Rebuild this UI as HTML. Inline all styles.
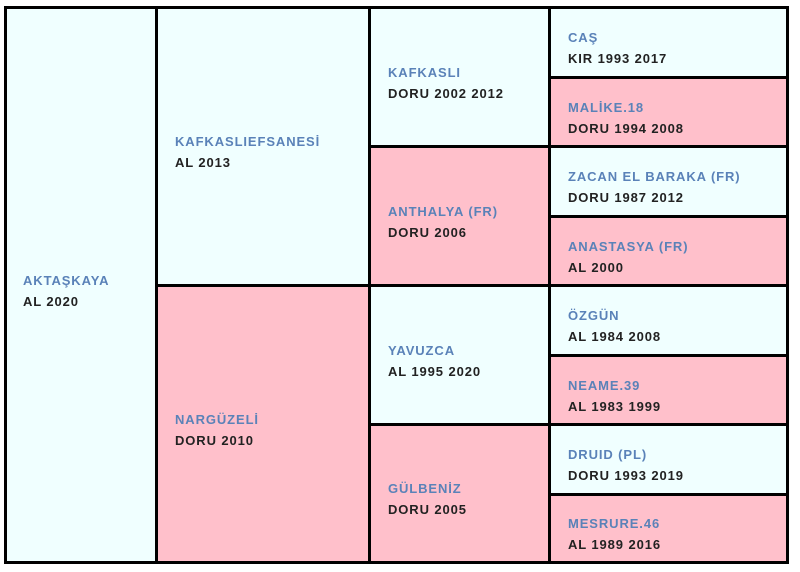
<!DOCTYPE html>
<html><head><meta charset="utf-8"><style>
html,body{margin:0;padding:0;width:800px;height:572px;background:#fff;overflow:hidden}
#tree{position:absolute;left:4px;top:6px;width:785px;height:558px;background:#000}
.c{position:absolute;box-sizing:border-box;display:flex;flex-direction:column;justify-content:center;padding-left:17px;padding-top:11px;font-family:"Liberation Sans","DejaVu Sans",sans-serif;font-weight:bold;font-size:13px;line-height:21px;letter-spacing:0.9px;color:#222}
.l{background:#f0ffff}.p{background:#ffc0cb}
.n{color:#5a82b8}
</style></head><body>
<div id="tree"></div>
<script>
const xs=[4,155,368,548,786];
const ys=[6,76,145,215,284,354,423,493,561];
const horses=[
[["AKTAŞKAYA","AL 2020","l"]],
[["KAFKASLIEFSANESİ","AL 2013","l"],["NARGÜZELİ","DORU 2010","p"]],
[["KAFKASLI","DORU 2002 2012","l"],["ANTHALYA (FR)","DORU 2006","p"],["YAVUZCA","AL 1995 2020","l"],["GÜLBENİZ","DORU 2005","p"]],
[["CAŞ","KIR 1993 2017","l"],["MALİKE.18","DORU 1994 2008","p"],["ZACAN EL BARAKA (FR)","DORU 1987 2012","l"],["ANASTASYA (FR)","AL 2000","p"],["ÖZGÜN","AL 1984 2008","l"],["NEAME.39","AL 1983 1999","p"],["DRUID (PL)","DORU 1993 2019","l"],["MESRURE.46","AL 1989 2016","p"]]
];
const root=document.body;
horses.forEach((col,g)=>{
  const span=8/col.length;
  col.forEach((h,i)=>{
    const d=document.createElement('div');
    
    
    d.className='c '+h[2];
    const x0=xs[g]+3,x1=xs[g+1],y0=ys[i*span]+3,y1=ys[(i+1)*span];
    d.style.left=x0+'px';d.style.top=y0+'px';d.style.width=(x1-x0)+'px';d.style.height=(y1-y0)+'px';
    if(g===0) d.style.paddingLeft='16px';
    const a=document.createElement('div');
    
    
    a.className='n';a.textContent=h[0];
    const b=document.createElement('div');
    
    
    b.textContent=h[1];
    d.appendChild(a);d.appendChild(b);root.appendChild(d);
  });
});
</script>
</body></html>
